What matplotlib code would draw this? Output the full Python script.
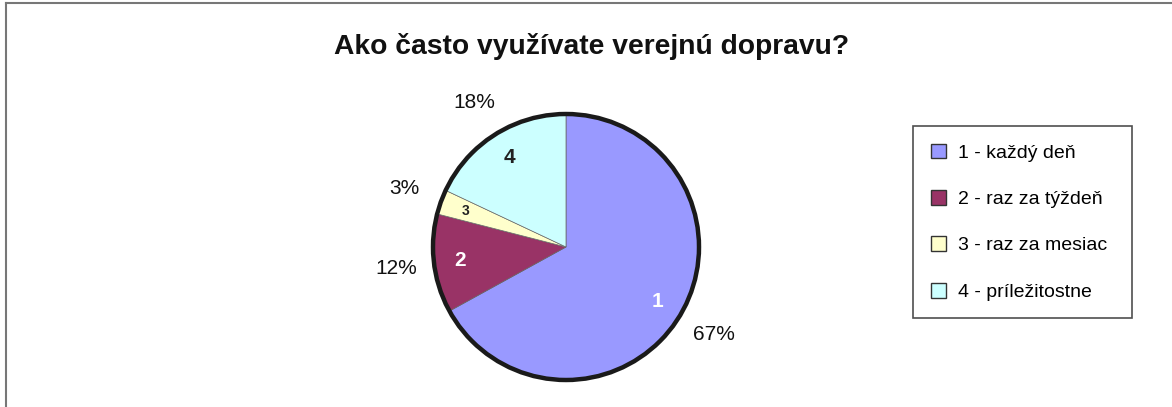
import matplotlib
matplotlib.use("Agg")
import matplotlib.pyplot as plt
from matplotlib.patches import Circle

title = "Ako často využívate verejnú dopravu?"
slice_ids = ["1", "2", "3", "4"]
legend_labels = ["1 - každý deň", "2 - raz za týždeň", "3 - raz za mesiac", "4 - príležitostne"]
values = [67, 12, 3, 18]
colors = ["#9999FF", "#993366", "#FFFFCC", "#CCFFFF"]
inner_colors = ["white", "white", "#222222", "#222222"]
inner_sizes = [15, 15, 10, 15]

W, H = 1172, 407
plt.rcParams['font.family'] = ['Liberation Sans', 'DejaVu Sans']
fig = plt.figure(figsize=(W / 100, H / 100), dpi=100)
ax = fig.add_axes([0, 0, 1, 1])

cx, cy, r = 566, H - 247, 133
wedges, texts, autotexts = ax.pie(
    values, labels=slice_ids, colors=colors, startangle=90, counterclock=False,
    center=(cx, cy), radius=r, labeldistance=0.8, pctdistance=1.29,
    autopct='%1.0f%%', frame=True,
    wedgeprops=dict(edgecolor='#666666', linewidth=0.5),
    textprops=dict(fontsize=15, color='#111111'))

for t, c, s in zip(texts, inner_colors, inner_sizes):
    t.set_ha('center')
    t.set_va('center')
    t.set_color(c)
    t.set_fontsize(s)
    t.set_fontweight('bold')

ax.add_patch(Circle((cx, cy), r, fill=False, edgecolor='#1a1a1a', linewidth=3.2, zorder=5))

ax.set_xlim(0, W)
ax.set_ylim(0, H)
ax.set_aspect('equal')
ax.axis('off')

# outer frame (only top and left visible)
ax.plot([6, 6], [0, H - 3], color='#777777', linewidth=1.5, clip_on=False)
ax.plot([6, W], [H - 3, H - 3], color='#777777', linewidth=1.5, clip_on=False)

ax.text(592, H - 47, title, ha='center', va='center', fontsize=20.3, fontweight='bold', color='#111111')

leg = ax.legend(wedges, legend_labels, loc='upper left',
                bbox_to_anchor=(913 / W, 1 - 320 / H, (1132 - 913) / W, (320 - 126) / H),
                mode='expand', fontsize=14, frameon=True, fancybox=False,
                borderpad=0.9, labelspacing=1.45, handlelength=0.8, handleheight=0.8,
                handletextpad=0.6, borderaxespad=0)
leg.get_frame().set_edgecolor('#222222')
leg.get_frame().set_linewidth(1.2)
for h in leg.legend_handles:
    h.set_edgecolor('#333333')
    h.set_linewidth(1.0)

fig.savefig("out.png", dpi=100)
